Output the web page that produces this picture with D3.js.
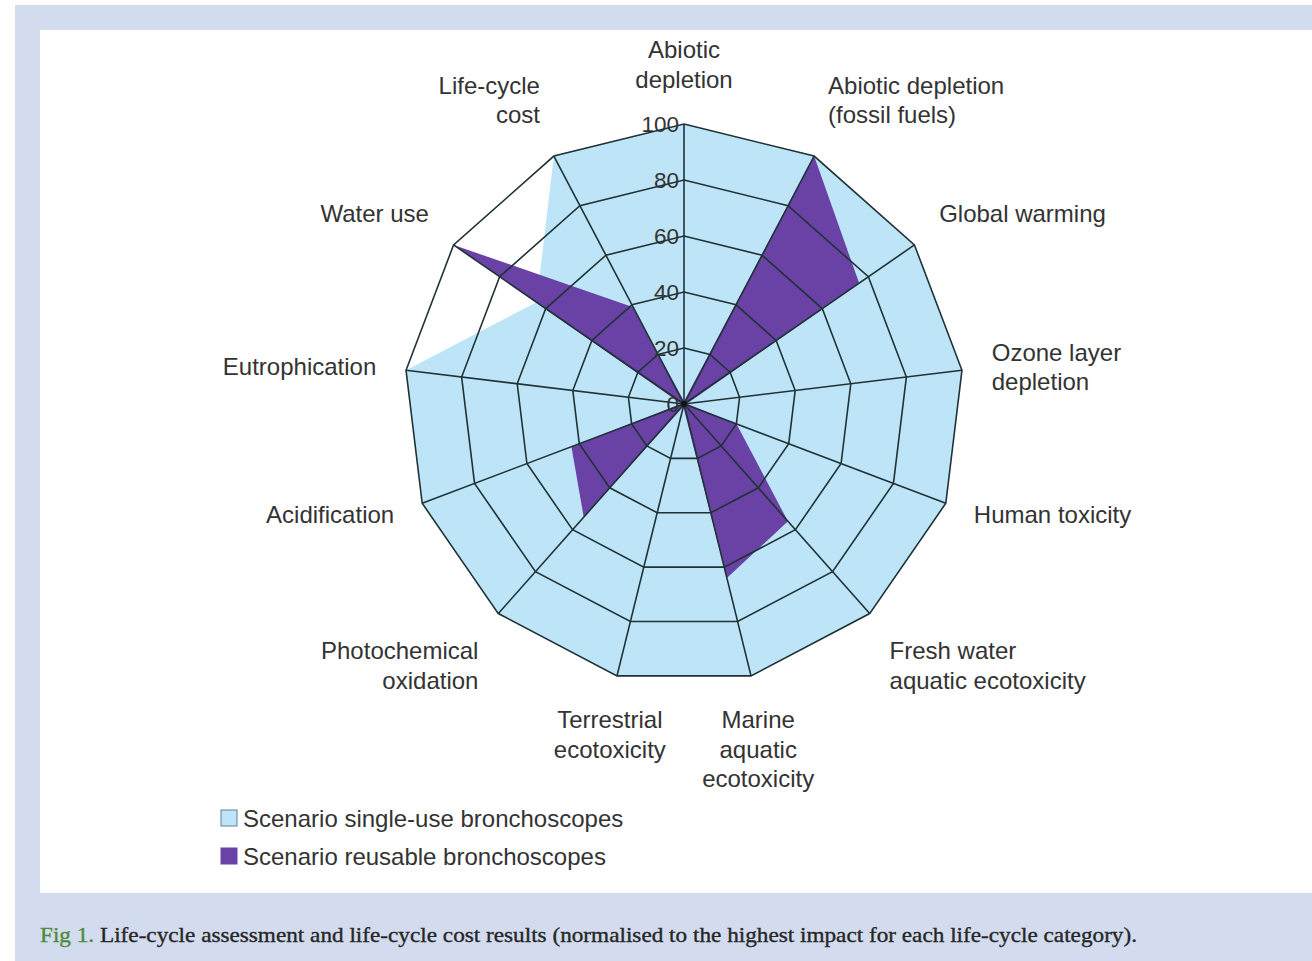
<!DOCTYPE html>
<html>
<head>
<meta charset="utf-8">
<script src="https://cdn.jsdelivr.net/npm/d3@7"></script>
<style>
  html, body { margin: 0; padding: 0; background: #ffffff; }
  svg { display: block; }
</style>
</head>
<body>
<svg id="chart" width="1312" height="961"></svg>
<script>
// Impact categories, clockwise from the top
const categories = [
  ["Abiotic", "depletion"],
  ["Abiotic depletion", "(fossil fuels)"],
  ["Global warming"],
  ["Ozone layer", "depletion"],
  ["Human toxicity"],
  ["Fresh water", "aquatic ecotoxicity"],
  ["Marine", "aquatic", "ecotoxicity"],
  ["Terrestrial", "ecotoxicity"],
  ["Photochemical", "oxidation"],
  ["Acidification"],
  ["Eutrophication"],
  ["Water use"],
  ["Life-cycle", "cost"]
];

// Normalised results (% of the highest impact per category)
const singleUse = [100, 100, 100, 100, 100, 100, 100, 100, 100, 100, 100, 64, 100];
const reusable  = [1, 100, 76, 1, 20, 56, 64, 1, 54, 43, 1, 100, 39];

const tickValues = [0, 20, 40, 60, 80, 100];
const seriesNames = ["Scenario single-use bronchoscopes", "Scenario reusable bronchoscopes"];
const caption = "Life-cycle assessment and life-cycle cost results (normalised to the highest impact for each life-cycle category).";

const svg = d3.select("#chart");
const W = 1312, H = 961;

// page frame
svg.append("rect").attr("x", 15).attr("y", 5).attr("width", W - 15).attr("height", H - 5)
  .attr("fill", "#d3dcee");
svg.append("rect").attr("x", 40).attr("y", 30).attr("width", W - 40).attr("height", 863)
  .attr("fill", "#ffffff");

const cx = 684, cy = 404;
const r = d3.scaleLinear().domain([0, 100]).range([0, 280]);
const n = categories.length;
const angle = d3.scaleLinear().domain([0, n]).range([0, 2 * Math.PI]);

const g = svg.append("g").attr("transform", `translate(${cx},${cy})`);

const radial = d3.lineRadial()
  .angle((d, i) => angle(i))
  .radius(d => r(d))
  .curve(d3.curveLinearClosed);

// series areas
g.append("path").attr("d", radial(singleUse)).attr("fill", "#bde5f7");
g.append("path").attr("d", radial(reusable)).attr("fill", "#6a42a6");

// web grid
const gridColor = "#1f3236";
tickValues.filter(t => t > 0).forEach(t => {
  g.append("path")
    .attr("d", radial(d3.range(n).map(() => t)))
    .attr("fill", "none")
    .attr("stroke", gridColor)
    .attr("stroke-width", 1.6);
});
d3.range(n).forEach(i => {
  const a = angle(i);
  g.append("line")
    .attr("x1", 0).attr("y1", 0)
    .attr("x2", r(100) * Math.sin(a))
    .attr("y2", -r(100) * Math.cos(a))
    .attr("stroke", gridColor)
    .attr("stroke-width", 1.6);
});
g.append("circle").attr("r", 3).attr("fill", "#111");

// radial tick labels along the first axis
g.selectAll("text.tick")
  .data(tickValues)
  .join("text")
  .attr("class", "tick")
  .attr("x", -5)
  .attr("y", d => -r(d))
  .attr("dy", "0.36em")
  .attr("text-anchor", "end")
  .attr("font-family", "Liberation Sans, Arial, sans-serif")
  .attr("font-size", 22.5)
  .attr("fill", "#333")
  .text(d => d);

// category labels
const lineH = 29.5;
categories.forEach((lines, i) => {
  const a = angle(i);
  const s = Math.sin(a), c = Math.cos(a);
  const d = r(100) + 30;
  const x = d * s, y = -d * c;
  const anchor = s > 0.3 ? "start" : (s < -0.3 ? "end" : "middle");
  const blockH = lines.length * lineH;
  let top;
  if (c > 0.4) top = y - blockH;
  else if (c < -0.4) top = y;
  else top = y - blockH / 2;
  const t = g.append("text")
    .attr("text-anchor", anchor)
    .attr("font-family", "Liberation Sans, Arial, sans-serif")
    .attr("font-size", 24)
    .attr("fill", "#333");
  lines.forEach((ln, k) => {
    t.append("tspan")
      .attr("x", x)
      .attr("y", top + lineH * (k + 0.5))
      .attr("dy", "0.36em")
      .text(ln);
  });
});

// legend
const legendColors = ["#bde5f7", "#6a42a6"];
const legendStroke = ["#5c7f99", "#6a42a6"];
const legend = svg.append("g").attr("transform", "translate(221,818)");
seriesNames.forEach((name, i) => {
  const row = legend.append("g").attr("transform", `translate(0,${i * 38})`);
  row.append("rect").attr("x", 0).attr("y", -8).attr("width", 16).attr("height", 16)
    .attr("fill", legendColors[i]).attr("stroke", legendStroke[i]).attr("stroke-width", 1);
  row.append("text").attr("x", 22).attr("y", 0).attr("dy", "0.36em")
    .attr("font-family", "Liberation Sans, Arial, sans-serif")
    .attr("font-size", 24).attr("fill", "#333")
    .text(name);
});

// figure caption
const cap = svg.append("text")
  .attr("x", 40).attr("y", 942)
  .attr("font-family", "Liberation Serif, Times New Roman, serif")
  .attr("font-size", 21)
  .attr("fill", "#262626")
  .attr("stroke", "#262626")
  .attr("stroke-width", 0.35);
cap.append("tspan").attr("fill", "#4f8a3a").attr("stroke", "#4f8a3a").text("Fig 1. ");
cap.append("tspan").text(caption);
const len = cap.node().getComputedTextLength();
const targetW = 1098;
cap.attr("transform", `translate(40,0) scale(${targetW / len},1) translate(-40,0)`);
</script>
</body>
</html>
